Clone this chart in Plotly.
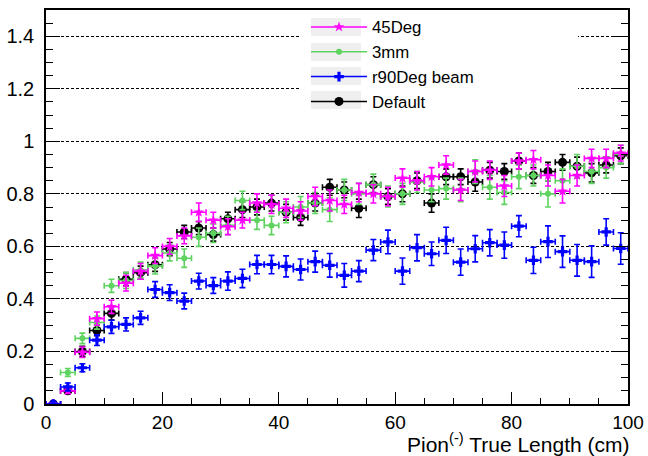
import plotly.graph_objects as go

# Histogram bins: 40 bins of 2.5 cm from 0 to 100 cm
bin_width = 2.5
length_cm = [bin_width * (i + 0.5) for i in range(40)]

eff_45deg = [0.0, 0.05, 0.197, 0.325, 0.37, 0.46, 0.505, 0.565, 0.60, 0.64,
             0.73, 0.70, 0.675, 0.70, 0.765, 0.76, 0.745, 0.735, 0.79, 0.775,
             0.76, 0.805, 0.80, 0.79, 0.86, 0.85, 0.865, 0.91, 0.815, 0.885,
             0.89, 0.83, 0.925, 0.93, 0.87, 0.81, 0.87, 0.935, 0.935, 0.955]
err_45deg = [0.005, 0.01, 0.02, 0.025, 0.025, 0.03, 0.03, 0.03, 0.03, 0.03,
             0.035, 0.03, 0.03, 0.03, 0.035, 0.035, 0.035, 0.035, 0.035, 0.04,
             0.035, 0.035, 0.035, 0.035, 0.035, 0.035, 0.035, 0.035, 0.04, 0.04,
             0.035, 0.04, 0.03, 0.035, 0.04, 0.045, 0.04, 0.035, 0.035, 0.03]

eff_3mm = [0.0, 0.12, 0.25, 0.31, 0.45, 0.47, 0.51, 0.525, 0.575, 0.555,
           0.635, 0.65, 0.68, 0.775, 0.70, 0.68, 0.73, 0.75, 0.765, 0.74,
           0.815, 0.80, 0.835, 0.79, 0.80, 0.845, 0.815, 0.82, 0.815, 0.885,
           0.825, 0.805, 0.865, 0.87, 0.80, 0.85, 0.905, 0.885, 0.90, 0.95]
err_3mm = [0.005, 0.015, 0.02, 0.025, 0.025, 0.03, 0.03, 0.03, 0.03, 0.035,
           0.035, 0.035, 0.035, 0.035, 0.035, 0.035, 0.04, 0.04, 0.04, 0.045,
           0.04, 0.04, 0.04, 0.04, 0.04, 0.04, 0.045, 0.04, 0.045, 0.045,
           0.045, 0.045, 0.045, 0.04, 0.05, 0.045, 0.045, 0.045, 0.04, 0.035]

eff_r90 = [0.0, 0.065, 0.138, 0.243, 0.294, 0.303, 0.328, 0.436, 0.424, 0.392,
           0.468, 0.451, 0.468, 0.478, 0.531, 0.531, 0.524, 0.512, 0.542, 0.528,
           0.49, 0.506, 0.586, 0.617, 0.506, 0.595, 0.572, 0.623, 0.54, 0.591,
           0.614, 0.605, 0.677, 0.547, 0.618, 0.58, 0.547, 0.542, 0.655, 0.592]
err_r90 = [0.01, 0.015, 0.015, 0.02, 0.025, 0.025, 0.025, 0.03, 0.03, 0.03,
           0.03, 0.03, 0.035, 0.035, 0.035, 0.035, 0.04, 0.04, 0.04, 0.045,
           0.045, 0.04, 0.04, 0.045, 0.05, 0.05, 0.045, 0.05, 0.05, 0.05,
           0.05, 0.05, 0.04, 0.05, 0.06, 0.06, 0.06, 0.06, 0.05, 0.06]

eff_default = [0.0, 0.05, 0.20, 0.28, 0.345, 0.475, 0.50, 0.53, 0.59, 0.655,
               0.67, 0.645, 0.705, 0.74, 0.75, 0.765, 0.73, 0.71, 0.765, 0.825,
               0.815, 0.745, 0.835, 0.79, 0.80, 0.85, 0.765, 0.865, 0.865, 0.845,
               0.89, 0.885, 0.925, 0.87, 0.885, 0.92, 0.905, 0.88, 0.91, 0.945]
err_default = [0.005, 0.01, 0.02, 0.02, 0.025, 0.025, 0.025, 0.025, 0.025, 0.025,
               0.025, 0.025, 0.025, 0.03, 0.03, 0.03, 0.03, 0.03, 0.03, 0.03,
               0.03, 0.035, 0.03, 0.03, 0.03, 0.03, 0.035, 0.03, 0.03, 0.035,
               0.03, 0.03, 0.03, 0.03, 0.035, 0.03, 0.035, 0.035, 0.03, 0.03]

series = [
    # name, values, errors, colour, marker symbol, marker size
    ("Default", eff_default, err_default, "#000000", "circle", 9),
    ("3mm", eff_3mm, err_3mm, "#5fd35f", "circle", 6),
    ("45Deg", eff_45deg, err_45deg, "#ff00ff", "star", 8),
    ("r90Deg beam", eff_r90, err_r90, "#0000ff", "cross", 8),
]
legend_order = ["45Deg", "3mm", "r90Deg beam", "Default"]

FONT = "Liberation Sans, Arial, sans-serif"

fig = go.Figure()
for name, vals, errs, color, sym, size in series:
    fig.add_trace(go.Scatter(
        x=length_cm, y=vals, mode="markers", name=name, showlegend=False,
        marker=dict(color=color, symbol=sym, size=size, line=dict(width=0)),
        error_x=dict(type="constant", value=bin_width / 2, color=color,
                     thickness=1.6, width=3),
        error_y=dict(type="data", array=errs, color=color,
                     thickness=1.6, width=3),
    ))

# Legend entries (line + marker style)
style = {s[0]: s for s in series}
for name in legend_order:
    _, _, _, color, sym, size = style[name]
    fig.add_trace(go.Scatter(
        x=[None], y=[None], mode="lines+markers", name=name,
        line=dict(color=color, width=1.5),
        marker=dict(color=color, symbol=sym, size=size, line=dict(width=0)),
    ))

# Legend box: white background hides the grid, grey swatches behind symbols
L, R, T, B = 46, 20, 10, 52
PW, PH = 648 - L - R, 456 - T - B


def px_x(p):
    return (p - L) / PW


def px_y(p):
    return 1 - (p - T) / PH


shapes = [dict(type="rect", xref="paper", yref="paper", layer="above",
               x0=px_x(300), x1=px_x(578), y0=px_y(114), y1=px_y(11),
               fillcolor="white", line=dict(width=0))]
for cy in [27, 52, 76, 100]:
    shapes.append(dict(type="rect", xref="paper", yref="paper", layer="above",
                       x0=px_x(311), x1=px_x(361), y0=px_y(cy + 9), y1=px_y(cy - 9),
                       fillcolor="#efefef", line=dict(width=0)))

fig.update_layout(
    width=648, height=456,
    margin=dict(l=L, r=R, t=T, b=B, autoexpand=False),
    paper_bgcolor="white", plot_bgcolor="white",
    font=dict(family=FONT, size=20, color="black"),
    shapes=shapes,
    showlegend=True,
    legend=dict(x=px_x(306), y=px_y(9.5), xanchor="left", yanchor="top",
                bgcolor="rgba(0,0,0,0)", font=dict(size=16.8, family=FONT),
                itemwidth=56, tracegroupgap=0),
    xaxis=dict(range=[0, 100], dtick=20, tick0=0, automargin=False,
               ticks="inside", ticklen=12, tickwidth=1.2, tickcolor="black",
               minor=dict(dtick=5, ticks="inside", ticklen=6, tickcolor="black"),
               showline=True, linecolor="black", linewidth=1.5, mirror=True,
               showgrid=False, zeroline=False, ticklabelstandoff=0,
               tickfont=dict(size=19)),
    yaxis=dict(range=[0, 1.5], dtick=0.2, tick0=0, automargin=False,
               ticks="inside", ticklen=14, tickwidth=1.2, tickcolor="black",
               minor=dict(dtick=0.05, ticks="inside", ticklen=7, tickcolor="black"),
               showline=True, linecolor="black", linewidth=1.5, mirror="ticks",
               showgrid=True, gridcolor="black", gridwidth=1, griddash="3px,2px",
               zeroline=False, ticklabelstandoff=6),
    annotations=[dict(text="Pion<sup>(-)</sup> True Length (cm)",
                      xref="paper", yref="paper", x=px_x(631), y=px_y(443),
                      xanchor="right", yanchor="middle", showarrow=False,
                      font=dict(size=21, family=FONT))],
)

fig.write_html("out.html")
